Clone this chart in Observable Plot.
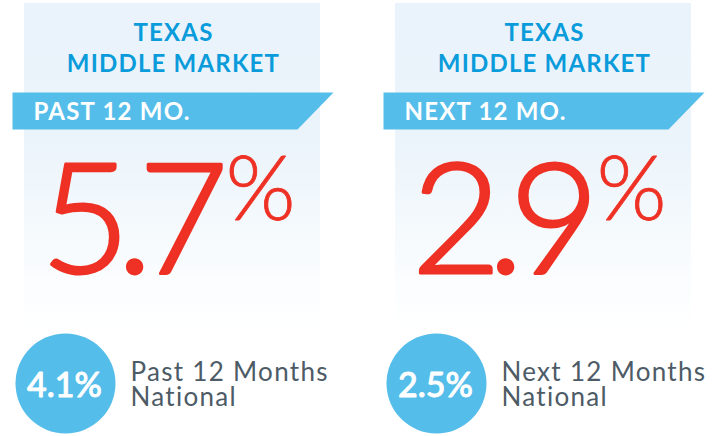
<!DOCTYPE html>
<html>
<head>
<meta charset="utf-8">
<script src="https://cdn.jsdelivr.net/npm/d3@7"></script>
<script src="https://cdn.jsdelivr.net/npm/@observablehq/plot@0.6"></script>
<style>
  html, body { margin: 0; padding: 0; background: #fff; }
  g[font-size="155"] text { letter-spacing: -14px; }
  g[font-size="24"] text { letter-spacing: 1.2px; }
  g[font-size="26"] text { letter-spacing: 1.3px; }
</style>
</head>
<body>
<div id="chart"></div>
<script>
// ---- data ----
const heading = ["TEXAS", "MIDDLE MARKET"];
const periods = ["PAST 12 MO.", "NEXT 12 MO."];
const texasValues = [5.7, 2.9];
const nationalValues = [4.1, 2.5];
const nationalLabels = ["Past 12 Months", "Next 12 Months"];
const nationalSub = ["National", "National"];

// ---- layout ----
const W = 727, H = 436;
const step = 371;
const idx = periods.map((_, i) => i);
const off = i => i * step;

const blueTitle = "#0A9BDB";
const bannerBlue = "#55BDEA";
const red = "#EE3124";
const gray = "#4D5B66";
const font = "Lato, 'Open Sans', sans-serif";

// banner polygons built per panel
const bannerShape = [[12, 92], [333, 92], [297, 129], [12, 129]];
const bannerPts = idx.flatMap(i => bannerShape.map(([x, y]) => ({panel: i, x: x + off(i), y})));

const headRows = idx.flatMap(i => heading.map((t, k) => ({panel: i, t, k})));

const plot = Plot.plot({
  width: W, height: H,
  margin: 0,
  x: {domain: [0, W], range: [0, W], axis: null},
  y: {domain: [0, H], range: [0, H], axis: null},
  style: {background: "transparent"},
  marks: [
    Plot.rect(idx, {x1: i => 24 + off(i), x2: i => 320 + off(i), y1: () => 3, y2: () => 333, fill: "url(#fade)"}),
    Plot.text(headRows, {x: d => 173 + off(d.panel), y: d => 40 + d.k * 31, text: "t", textAnchor: "middle", lineAnchor: "bottom",
      fill: blueTitle, fontSize: 24, fontWeight: "bold", fontFamily: font}),
    Plot.line(bannerPts, {x: "x", y: "y", z: "panel", fill: bannerBlue, stroke: "none"}),
    Plot.text(idx, {x: i => 33 + off(i), y: () => 119, text: i => periods[i], textAnchor: "start", lineAnchor: "bottom",
      fill: "#fff", fontSize: 24, fontWeight: "bold", fontFamily: font}),
    Plot.text(idx, {x: i => 214 + off(i), y: () => 272, text: i => texasValues[i].toFixed(1), textAnchor: "end", lineAnchor: "bottom",
      fill: red, stroke: red, strokeWidth: 3, fontSize: 155, fontWeight: 300, fontFamily: font}),
    Plot.text(idx, {x: i => 225 + off(i), y: () => 219, text: () => "%", textAnchor: "start", lineAnchor: "bottom",
      fill: red, stroke: red, strokeWidth: 0.8, fontSize: 90, fontWeight: 300, fontFamily: font}),
    Plot.dot(idx, {x: i => 65 + off(i), y: () => 383, r: 50, fill: bannerBlue, stroke: "none"}),
    Plot.text(idx, {x: i => 64 + off(i), y: () => 396, text: i => nationalValues[i].toFixed(1) + "%", textAnchor: "middle", lineAnchor: "bottom",
      fill: "#fff", stroke: "#fff", strokeWidth: 0.9, fontSize: 34, fontWeight: 500, fontFamily: font}),
    Plot.text(idx, {x: i => 130 + off(i), y: () => 380, text: i => nationalLabels[i], textAnchor: "start", lineAnchor: "bottom",
      fill: gray, fontSize: 26, fontWeight: "normal", fontFamily: font}),
    Plot.text(idx, {x: i => 130 + off(i), y: () => 405, text: i => nationalSub[i], textAnchor: "start", lineAnchor: "bottom",
      fill: gray, fontSize: 26, fontWeight: "normal", fontFamily: font})
  ]
});

// gradient definition for the panel backgrounds
const ns = "http://www.w3.org/2000/svg";
const defs = document.createElementNS(ns, "defs");
const grad = document.createElementNS(ns, "linearGradient");
grad.setAttribute("id", "fade");
grad.setAttribute("x1", "0"); grad.setAttribute("y1", "0");
grad.setAttribute("x2", "0"); grad.setAttribute("y2", "1");
[["0", "#EAF3FB"], ["0.42", "#EBF4FB"], ["0.85", "#FBFDFE"], ["1", "#FFFFFF"]].forEach(([o, c]) => {
  const s = document.createElementNS(ns, "stop");
  s.setAttribute("offset", o); s.setAttribute("stop-color", c);
  grad.appendChild(s);
});
defs.appendChild(grad);
plot.insertBefore(defs, plot.firstChild);

document.getElementById("chart").appendChild(plot);
</script>
</body>
</html>
